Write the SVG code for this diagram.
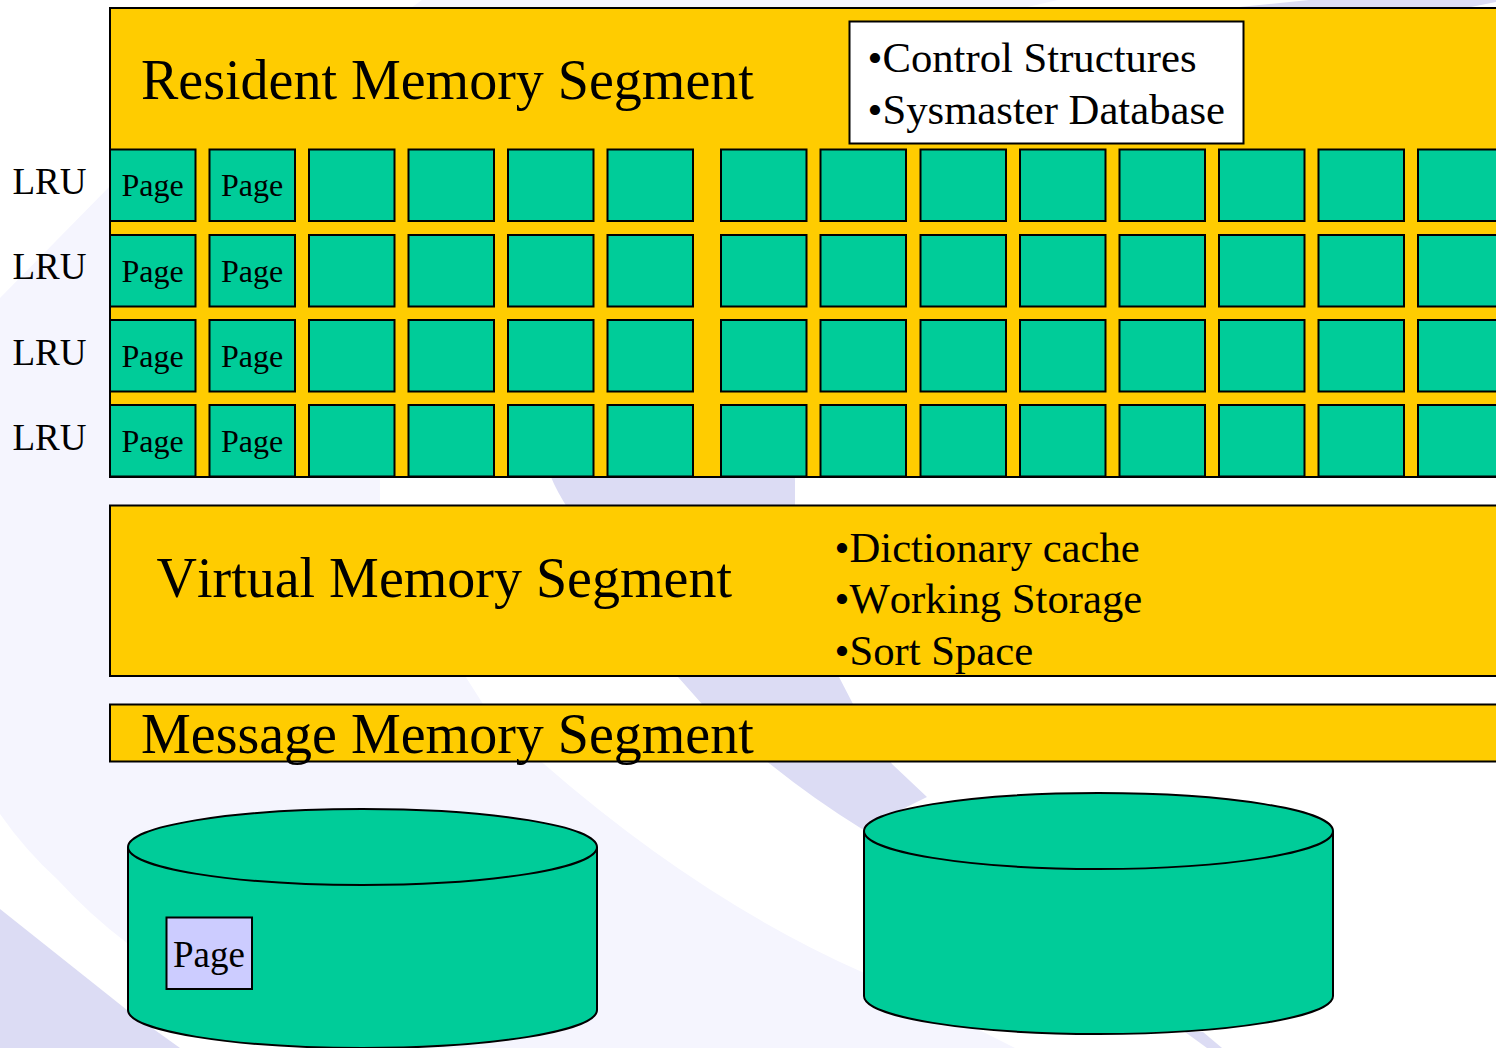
<svg xmlns="http://www.w3.org/2000/svg" width="1496" height="1048" viewBox="0 0 1496 1048">
<style>
text{font-family:"Liberation Serif","Times New Roman",serif;fill:#000;font-kerning:none}
.seg{fill:#ffcc00;stroke:#000;stroke-width:2}
.cell{fill:#00cc99;stroke:#000;stroke-width:2}
.disk{fill:#00cc99;stroke:#000;stroke-width:2}
.title{font-size:56px}
.list{font-size:42.700px}
.page{font-size:32px}
.lru{font-size:37px}
</style>
<rect width="1496" height="1048" fill="#fff"/>
<g id="background">
<path fill="#f5f5fe" d="M0,298 L110,186 L300,60 L411,8 L422,0 L1058,0 L1023,8 L380,477 L380,505 Q415,600 483,704 Q510,735 544,764 Q700,900 862,972 Q930,1005 1015,1048 L320,1048 L127,943 Q90,915 58,880 Q25,850 0,814 Z"/>
<path fill="#dcdcf4" d="M1229,8 L1309,0 L1496,0 L1496,2 L1466,8 L1300,100 L795,477 L795,505 Q810,600 839,677 L853,704 L892,764 L927,797 L862,829 Q815,800 770,764 L702,704 L678,677 Q620,610 590,540 Q560,500 551,477 L500,200 Z"/>
<path fill="#dcdcf4" d="M0,909 L127,1010 L180,1048 L0,1048 Z"/>
<path fill="#dcdcf4" d="M1185,1032 L1203,1032 L1222,1048 L1207,1048 Z"/>
</g>
<g id="resident-segment"><rect class="seg" x="110" y="8" width="1400" height="469"/><text class="title" x="141" y="99">Resident Memory Segment</text></g>
<g id="resident-list"><rect x="849.500" y="21.500" width="394" height="122" fill="#fff" stroke="#000" stroke-width="2"/><text class="list" x="867.500" y="72">•Control Structures</text><text class="list" x="867.500" y="124">•Sysmaster Database</text></g>
<g id="lru-labels"><text class="lru" x="12.500" y="194">LRU</text><text class="lru" x="12.500" y="279">LRU</text><text class="lru" x="12.500" y="365">LRU</text><text class="lru" x="12.500" y="450">LRU</text></g>
<defs>
<g id="row">
<rect class="cell" x="110" width="85.500" height="71.500"/><rect class="cell" x="209.500" width="85.500" height="71.500"/><rect class="cell" x="309" width="85.500" height="71.500"/><rect class="cell" x="408.500" width="85.500" height="71.500"/><rect class="cell" x="508" width="85.500" height="71.500"/><rect class="cell" x="607.500" width="85.500" height="71.500"/><rect class="cell" x="721" width="85.500" height="71.500"/><rect class="cell" x="820.500" width="85.500" height="71.500"/><rect class="cell" x="920.500" width="85.500" height="71.500"/><rect class="cell" x="1020" width="85.500" height="71.500"/><rect class="cell" x="1119.500" width="85.500" height="71.500"/><rect class="cell" x="1219" width="85.500" height="71.500"/><rect class="cell" x="1318.500" width="85.500" height="71.500"/><rect class="cell" x="1418" width="85.500" height="71.500"/>
</g>
</defs>
<g id="page-row-1"><use href="#row" y="149.500"/><text class="page" x="121.500" y="196">Page</text><text class="page" x="221" y="196">Page</text></g>
<g id="page-row-2"><use href="#row" y="235"/><text class="page" x="121.500" y="282">Page</text><text class="page" x="221" y="282">Page</text></g>
<g id="page-row-3"><use href="#row" y="320"/><text class="page" x="121.500" y="367">Page</text><text class="page" x="221" y="367">Page</text></g>
<g id="page-row-4"><use href="#row" y="405"/><text class="page" x="121.500" y="452">Page</text><text class="page" x="221" y="452">Page</text></g>
<g id="virtual-segment"><rect class="seg" x="110" y="505.500" width="1400" height="170.500"/><text class="title" x="156.500" y="597">Virtual Memory Segment</text><text class="list" x="834.500" y="562">•Dictionary cache</text><text class="list" x="834.500" y="613">•Working Storage</text><text class="list" x="834.500" y="665">•Sort Space</text></g>
<g id="message-segment"><rect class="seg" x="110" y="704.500" width="1400" height="57"/><text class="title" x="141" y="753">Message Memory Segment</text></g>
<g id="disk-1"><path class="disk" d="M128,847 V1010 C128,1031 233,1048 362.500,1048 S597,1031 597,1010 V847"/><ellipse class="disk" cx="362.500" cy="847" rx="234.500" ry="38"/><rect x="166.500" y="917.500" width="85.500" height="71.500" fill="#ccccff" stroke="#000" stroke-width="2"/><text x="173" y="967" font-size="37">Page</text></g>
<g id="disk-2"><path class="disk" d="M864,831 V996 C864,1017 969,1034 1098.500,1034 S1333,1017 1333,996 V831"/><ellipse class="disk" cx="1098.500" cy="831" rx="234.500" ry="38"/></g>
<g id="connectors"></g>
</svg>
